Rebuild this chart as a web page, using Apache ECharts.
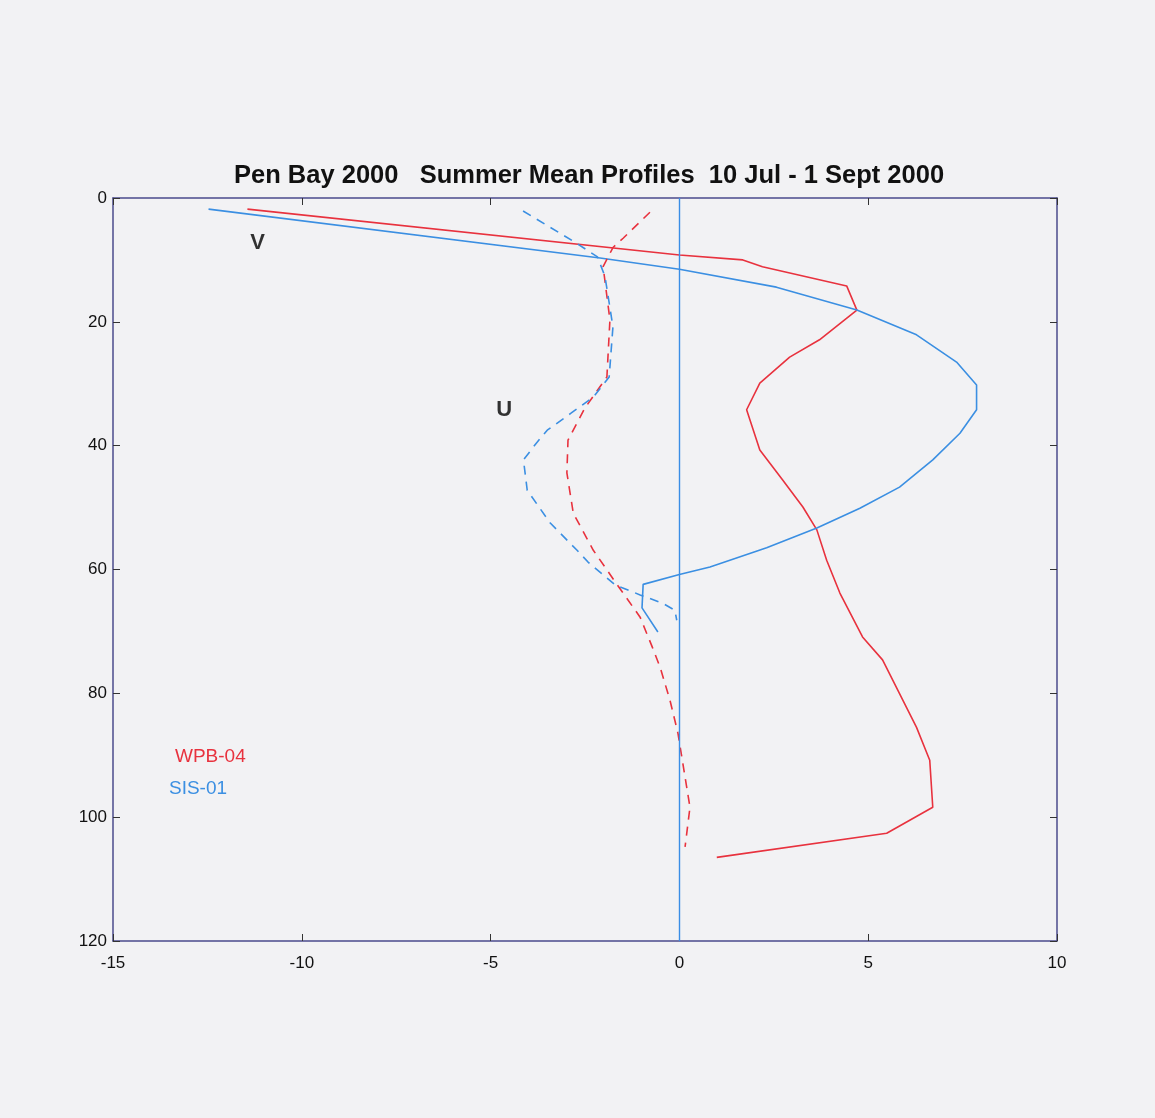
<!DOCTYPE html>
<html>
<head>
<meta charset="utf-8">
<script src="https://cdn.jsdelivr.net/npm/echarts@6/dist/echarts.min.js"></script>
<style>
html,body{margin:0;padding:0;background:#f2f2f4;}
#chart{width:1155px;height:1118px;}
</style>
</head>
<body>
<div id="chart"></div>
<script>
// WPB-04 V (solid red)
const wpbV_depth = [1.8, 9.2, 10.0, 11.1, 14.2, 18.1, 22.9, 25.7, 29.9, 34.2, 40.7, 45.6, 49.9, 53.6, 58.5, 63.8, 70.9, 74.6, 85.5, 90.8, 98.4, 102.6, 106.5];
const wpbV_x     = [-11.44, 0.0, 1.68, 2.2, 4.43, 4.70, 3.71, 2.92, 2.13, 1.78, 2.13, 2.74, 3.27, 3.64, 3.90, 4.25, 4.85, 5.38, 6.28, 6.63, 6.71, 5.49, 0.99];
// SIS-01 V (solid blue)
const sisV_depth = [1.8, 9.7, 11.5, 14.4, 18.1, 22.1, 26.5, 30.2, 34.2, 38.0, 42.3, 46.7, 50.1, 53.3, 56.5, 59.6, 60.8, 62.4, 66.2, 70.1];
const sisV_x     = [-12.47, -2.1, 0.0, 2.57, 4.70, 6.28, 7.34, 7.87, 7.87, 7.43, 6.71, 5.83, 4.78, 3.64, 2.31, 0.81, 0.0, -0.96, -0.99, -0.57];
// WPB-04 U (dashed red)
const wpbU_depth = [2.3, 6.5, 8.0, 11.1, 19.7, 28.9, 33.9, 39.1, 44.4, 50.9, 56.9, 62.0, 67.7, 72.5, 75.8, 81.1, 86.4, 98.4, 104.8];
const wpbU_x     = [-0.78, -1.49, -1.76, -2.02, -1.84, -1.92, -2.50, -2.95, -2.98, -2.81, -2.28, -1.70, -1.04, -0.72, -0.51, -0.25, -0.04, 0.28, 0.15];
// SIS-01 U (dashed blue)
const sisU_depth = [2.1, 7.1, 9.5, 12.7, 20.8, 28.9, 32.1, 34.8, 37.5, 39.6, 42.3, 47.2, 52.5, 56.9, 58.8, 62.5, 64.1, 65.5, 66.6, 68.2];
const sisU_x     = [-4.14, -2.78, -2.17, -1.97, -1.76, -1.86, -2.27, -2.88, -3.5, -3.79, -4.13, -4.03, -3.42, -2.71, -2.42, -1.70, -1.04, -0.43, -0.12, -0.07];
// Annotation labels
const annoText  = ['V', 'U'];
const annoX     = [-11.17, -4.64];
const annoDepth = [7.3, 34.2];
const seriesNames = ['WPB-04', 'SIS-01'];
const titleText = 'Pen Bay 2000   Summer Mean Profiles  10 Jul - 1 Sept 2000';

const RED = '#e8323e', BLUE = '#3b8fe2', AXIS = '#4b4b8c';
const pair = (xs, ds) => xs.map((x, i) => [x, ds[i]]);

const chart = echarts.init(document.getElementById('chart'));
const lineBase = {type: 'line', showSymbol: false, symbol: 'none', silent: true, animation: false, xAxisIndex: 0, yAxisIndex: 0};
const axisLabelStyle = {color: '#111', fontSize: 17, fontFamily: 'Liberation Sans'};
const axisLineStyle = {show: true, onZero: false, lineStyle: {color: AXIS, width: 1.5}};
const tickStyle = {show: true, inside: true, length: 7, lineStyle: {color: '#333'}};

chart.setOption({
  backgroundColor: '#f2f2f4',
  animation: false,
  title: {
    text: titleText, left: 229, top: 158,
    textStyle: {fontFamily: 'Liberation Sans', fontWeight: 'bold', fontSize: 25.5, color: '#111'}
  },
  legend: [
    {orient: 'vertical', left: 165, top: 742, icon: 'none', itemWidth: 0, itemHeight: 0, selectedMode: false,
     data: [{name: seriesNames[0], textStyle: {color: RED}}],
     textStyle: {fontSize: 19, fontFamily: 'Liberation Sans'}},
    {orient: 'vertical', left: 159, top: 774, icon: 'none', itemWidth: 0, itemHeight: 0, selectedMode: false,
     data: [{name: seriesNames[1], textStyle: {color: BLUE}}],
     textStyle: {fontSize: 19, fontFamily: 'Liberation Sans'}}
  ],
  grid: {left: 113, right: 98, top: 198, bottom: 177},
  xAxis: [
    {type: 'value', min: -15, max: 10, interval: 5, position: 'bottom',
     axisLine: axisLineStyle, axisTick: tickStyle,
     axisLabel: Object.assign({margin: 14}, axisLabelStyle),
     splitLine: {show: false}},
    {type: 'value', min: -15, max: 10, interval: 5, position: 'top',
     axisLine: axisLineStyle, axisTick: tickStyle,
     axisLabel: {show: false}, splitLine: {show: false}}
  ],
  yAxis: [
    {type: 'value', min: 0, max: 120, interval: 20, inverse: true, position: 'left',
     axisLine: axisLineStyle, axisTick: tickStyle,
     axisLabel: Object.assign({margin: 6}, axisLabelStyle),
     splitLine: {show: false}},
    {type: 'value', min: 0, max: 120, interval: 20, inverse: true, position: 'right',
     axisLine: axisLineStyle, axisTick: tickStyle,
     axisLabel: {show: false}, splitLine: {show: false}}
  ],
  series: [
    Object.assign({}, lineBase, {name: seriesNames[0], data: pair(wpbV_x, wpbV_depth), lineStyle: {color: RED, width: 1.6}, itemStyle: {color: RED},
      markLine: {silent: true, symbol: 'none', label: {show: false}, lineStyle: {color: '#3a8ee6', type: 'solid', width: 1.4, opacity: 1}, emphasis: {disabled: true}, data: [{xAxis: 0}]}}),
    Object.assign({}, lineBase, {name: seriesNames[1], data: pair(sisV_x, sisV_depth), lineStyle: {color: BLUE, width: 1.6}, itemStyle: {color: BLUE}}),
    Object.assign({}, lineBase, {name: seriesNames[0], data: pair(wpbU_x, wpbU_depth), lineStyle: {color: RED, width: 1.6, type: [9, 7]}, itemStyle: {color: RED}}),
    Object.assign({}, lineBase, {name: seriesNames[1], data: pair(sisU_x, sisU_depth), lineStyle: {color: BLUE, width: 1.6, type: [9, 7]}, itemStyle: {color: BLUE}}),
    {type: 'scatter', name: 'labels', symbolSize: 1, silent: true, itemStyle: {color: 'rgba(0,0,0,0)'},
     data: annoText.map((t, i) => ({value: [annoX[i], annoDepth[i]], name: t})),
     label: {show: true, position: 'inside', formatter: p => p.name, color: '#000', textBorderWidth: 0,
             fontSize: 22, fontWeight: 'bold', fontFamily: 'Liberation Sans'}}
  ]
});
</script>
</body>
</html>
